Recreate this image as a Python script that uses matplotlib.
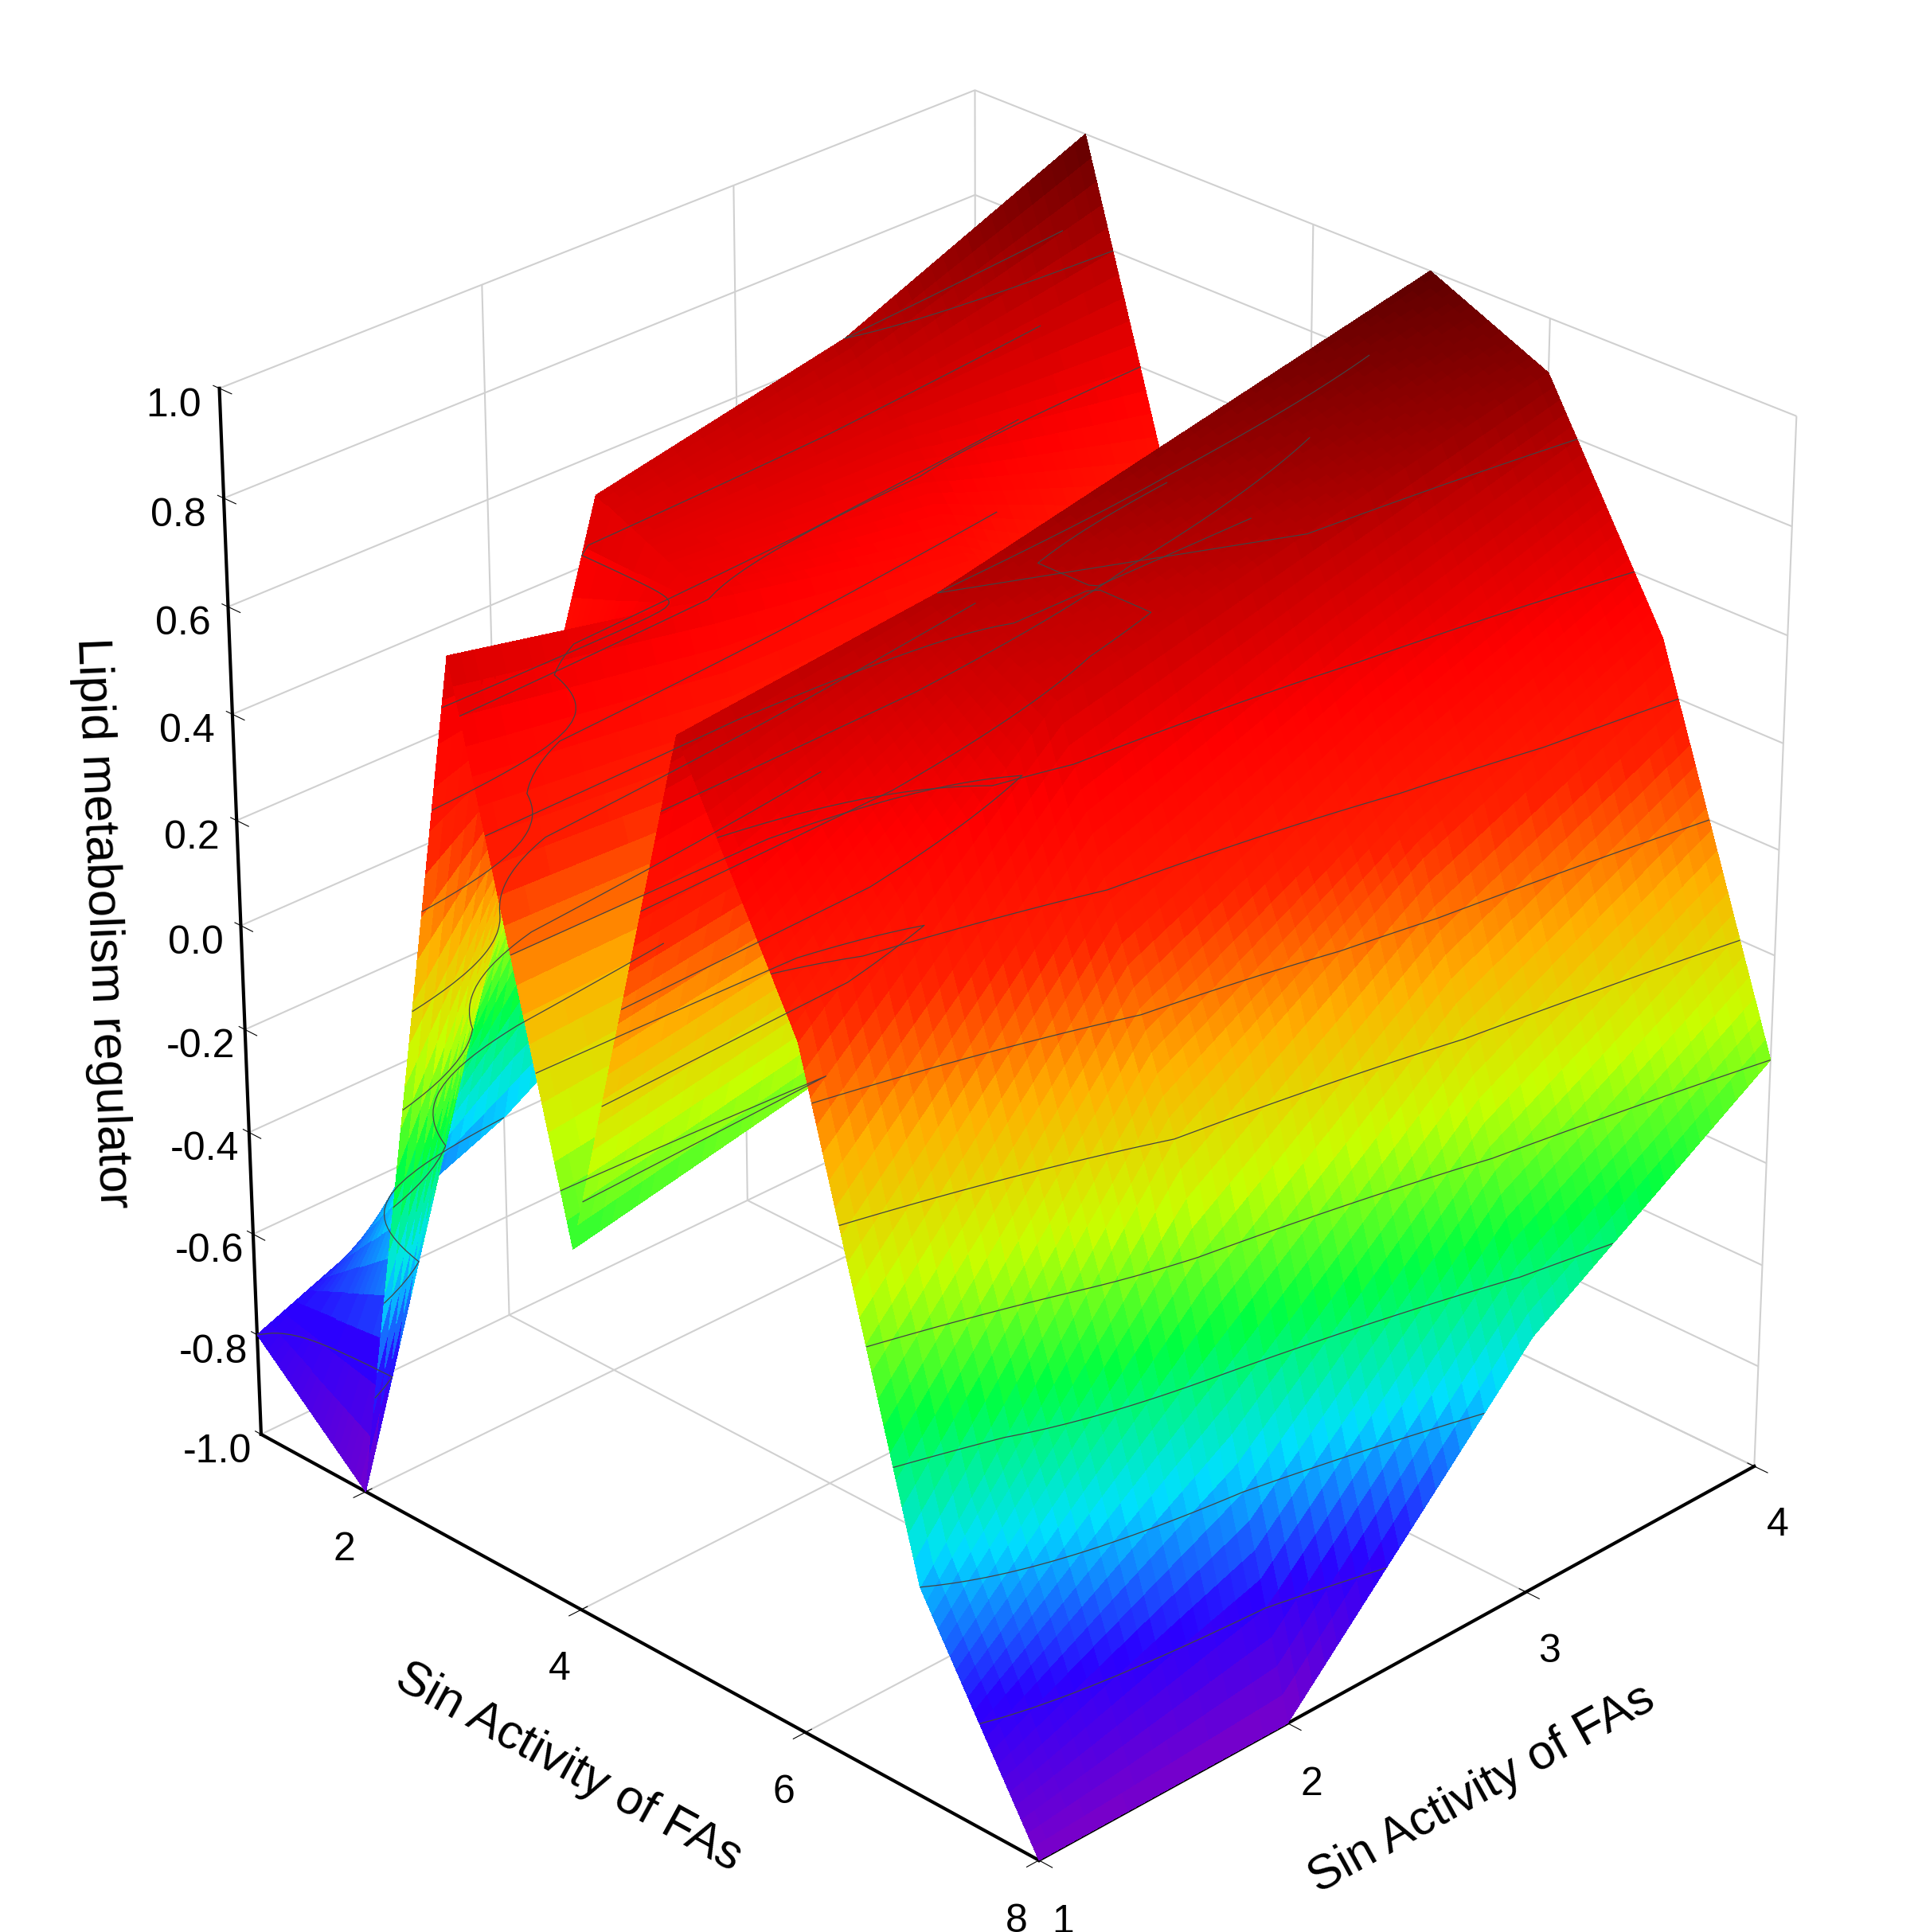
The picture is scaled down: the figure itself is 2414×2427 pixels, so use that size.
import numpy as np
import matplotlib.pyplot as plt
from matplotlib.colors import LinearSegmentedColormap

# grid of the surface
xs = [1, 2, 3, 4, 5, 6, 7, 8]
ys = [1, 2, 3, 4]
# z rows, one per y value
z_y1 = [-0.8, -1.0, 0.7, -0.3, 0.75, 0.3, -0.6, -1.0]
z_y2 = [-0.6, 0.7, 0.6, -0.2, 0.8, 0.7, 0.0, -1.0]
z_y3 = [-0.3, 0.8, 0.5, 0.3, 0.9, 0.8, 0.3, -0.5]
z_y4 = [0.0, 1.0, 0.2, 0.6, 1.0, 0.9, 0.5, -0.2]

Z = np.array([z_y1, z_y2, z_y3, z_y4])

cmap = LinearSegmentedColormap.from_list("origin", [
    "#7a00c8", "#2a00ff", "#00e0ff", "#00ff40", "#c8ff00", "#ffb000",
    "#ff2000", "#ff0000", "#c00000", "#600000"])

plt.rcParams['font.family'] = ['Arial', 'Liberation Sans', 'DejaVu Sans']
plt.rcParams['contour.negative_linestyle'] = 'solid'
fig = plt.figure(figsize=(24.14, 24.27), dpi=100)
ax = fig.add_subplot(111, projection='3d', computed_zorder=False)
ax.view_init(elev=28, azim=-45)

# fine resampling so the colour follows z smoothly within each cell
fx = np.linspace(1, 8, 141)
fy = np.linspace(1, 4, 61)
Zx = np.array([np.interp(fx, xs, row) for row in Z])
FZ = np.array([np.interp(fy, ys, Zx[:, j]) for j in range(len(fx))]).T
FX, FY = np.meshgrid(fx, fy)
ax.plot_surface(FX, FY, FZ, cmap=cmap, vmin=-1, vmax=1, rstride=1, cstride=1,
                linewidth=0, antialiased=False, shade=True)
ax.contour(FX, FY, FZ, levels=np.arange(-0.8, 1.0, 0.2), colors='#444444',
           linewidths=0.9)

ax.set_xlim(1, 8)
ax.set_ylim(1, 4)
ax.set_zlim(-1, 1)
ax.set_xticks([2, 4, 6, 8])
ax.set_yticks([1, 2, 3, 4])
zt = np.round(np.arange(-1, 1.01, 0.2), 1)
ax.set_zticks(zt)
ax.set_zticklabels([f"{v:.1f}" if abs(v) > 1e-9 else "0.0" for v in zt])
ax.tick_params(labelsize=36, pad=18)
ax.set_xlabel("Sin Activity of FAs", fontsize=44, labelpad=60)
ax.set_ylabel("Sin Activity of FAs", fontsize=44, labelpad=60)
ax.set_zlabel("Lipid metabolism regulator", fontsize=44, labelpad=60)
# put the z axis on the left edge
ax.zaxis._axinfo['juggled'] = (1, 2, 0)
for a in (ax.xaxis, ax.yaxis, ax.zaxis):
    a.set_pane_color((1, 1, 1, 0))
    a._axinfo['grid']['color'] = '#d0d0d0'
    a._axinfo['grid']['linewidth'] = 1.5
    a.line.set_linewidth(3)
ax.set_box_aspect((1, 0.92, 1.05))
plt.subplots_adjust(left=0.02, right=1, bottom=0, top=1)
plt.savefig("out.png")
